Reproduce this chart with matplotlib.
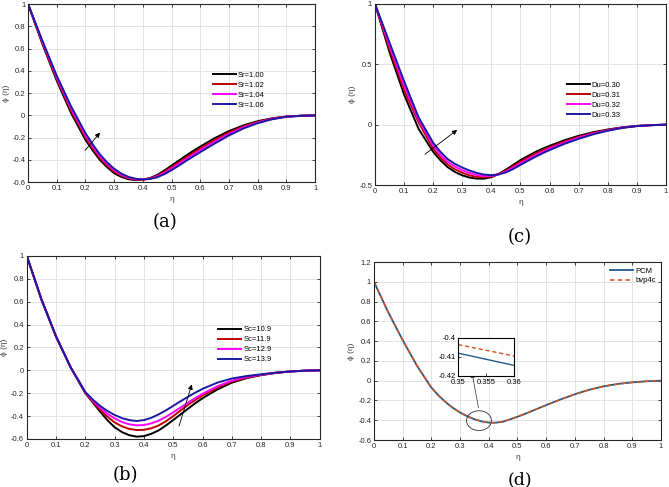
import matplotlib.pyplot as plt
from matplotlib.patches import Ellipse
import numpy as np

plt.rcParams['font.family'] = ['Liberation Sans', 'DejaVu Sans']

eta = [0.0, 0.05, 0.1, 0.15, 0.2, 0.225, 0.25, 0.275, 0.3, 0.325, 0.35, 0.375,
       0.4, 0.425, 0.45, 0.475, 0.5, 0.525, 0.55, 0.575, 0.6, 0.65, 0.7, 0.75,
       0.8, 0.85, 0.9, 0.95, 1.0]

# (a) Sr
sr_labels = ['Sr=1.00', 'Sr=1.02', 'Sr=1.04', 'Sr=1.06']
sr_vals = [
    [1.0, 0.64, 0.31, 0.02, -0.22, -0.315, -0.40, -0.465, -0.52, -0.553, -0.574, -0.582,
     -0.578, -0.563, -0.535, -0.495, -0.451, -0.406, -0.362, -0.32, -0.28, -0.205, -0.141, -0.09,
     -0.052, -0.026, -0.01, -0.003, 0.0],
    [1.0, 0.65, 0.325, 0.04, -0.20, -0.297, -0.383, -0.451, -0.507, -0.543, -0.567, -0.578,
     -0.577, -0.566, -0.542, -0.506, -0.465, -0.421, -0.378, -0.337, -0.297, -0.221, -0.154, -0.099,
     -0.058, -0.029, -0.011, -0.003, 0.0],
    [1.0, 0.66, 0.34, 0.06, -0.18, -0.278, -0.367, -0.436, -0.493, -0.533, -0.56, -0.574,
     -0.577, -0.569, -0.549, -0.517, -0.478, -0.437, -0.394, -0.353, -0.313, -0.237, -0.167, -0.108,
     -0.064, -0.032, -0.012, -0.004, 0.0],
    [1.0, 0.67, 0.355, 0.08, -0.16, -0.26, -0.35, -0.422, -0.48, -0.523, -0.553, -0.570,
     -0.576, -0.572, -0.556, -0.528, -0.492, -0.452, -0.41, -0.37, -0.33, -0.253, -0.18, -0.118,
     -0.07, -0.035, -0.013, -0.004, 0.0],
]

# (c) Du
du_labels = ['Du=0.30', 'Du=0.31', 'Du=0.32', 'Du=0.33']
du_vals = [
    [1.0, 0.60, 0.25, -0.035, -0.225, -0.295, -0.352, -0.392, -0.42, -0.438, -0.447, -0.447,
     -0.435, -0.408, -0.372, -0.333, -0.293, -0.26, -0.228, -0.2, -0.175, -0.13, -0.092, -0.062,
     -0.04, -0.022, -0.01, -0.004, 0.0],
    [1.0, 0.627, 0.287, 0.018, -0.2, -0.272, -0.33, -0.37, -0.398, -0.42, -0.433, -0.436,
     -0.429, -0.409, -0.38, -0.344, -0.306, -0.273, -0.241, -0.213, -0.187, -0.14, -0.1, -0.068,
     -0.043, -0.024, -0.011, -0.004, 0.0],
    [1.0, 0.653, 0.323, 0.04, -0.175, -0.25, -0.308, -0.347, -0.377, -0.40, -0.417, -0.425,
     -0.424, -0.41, -0.387, -0.355, -0.32, -0.287, -0.255, -0.226, -0.198, -0.15, -0.108, -0.074,
     -0.047, -0.025, -0.011, -0.004, 0.0],
    [1.0, 0.68, 0.36, 0.06, -0.15, -0.225, -0.285, -0.325, -0.355, -0.38, -0.40, -0.413,
     -0.418, -0.412, -0.395, -0.367, -0.333, -0.30, -0.268, -0.238, -0.21, -0.16, -0.117, -0.08,
     -0.05, -0.027, -0.012, -0.004, 0.0],
]

# (b) Sc
sc_labels = ['Sc=10.9', 'Sc=11.9', 'Sc=12.9', 'Sc=13.9']
sc_vals = [
    [1.0, 0.62, 0.295, 0.025, -0.20, -0.28, -0.36, -0.435, -0.498, -0.54, -0.567, -0.58,
     -0.575, -0.555, -0.525, -0.482, -0.434, -0.385, -0.336, -0.288, -0.244, -0.168, -0.108, -0.068,
     -0.042, -0.023, -0.01, -0.003, 0.0],
    [1.0, 0.62, 0.295, 0.025, -0.198, -0.275, -0.345, -0.405, -0.455, -0.49, -0.512, -0.522,
     -0.52, -0.507, -0.482, -0.445, -0.40, -0.35, -0.303, -0.26, -0.22, -0.152, -0.098, -0.063,
     -0.04, -0.022, -0.01, -0.003, 0.0],
    [1.0, 0.62, 0.295, 0.025, -0.195, -0.265, -0.327, -0.38, -0.42, -0.452, -0.472, -0.481,
     -0.478, -0.464, -0.44, -0.407, -0.367, -0.325, -0.283, -0.243, -0.205, -0.14, -0.09, -0.058,
     -0.038, -0.021, -0.01, -0.003, 0.0],
    [1.0, 0.62, 0.295, 0.025, -0.19, -0.255, -0.31, -0.355, -0.39, -0.418, -0.435, -0.443,
     -0.435, -0.415, -0.385, -0.35, -0.31, -0.27, -0.232, -0.195, -0.162, -0.108, -0.072, -0.05,
     -0.035, -0.02, -0.01, -0.003, 0.0],
]

# (d) PCM vs bvp4c
pcm = [1.0, 0.69, 0.41, 0.15, -0.07, -0.15, -0.218, -0.275, -0.322, -0.36, -0.39, -0.412,
       -0.424, -0.425, -0.414, -0.39, -0.365, -0.337, -0.307, -0.277, -0.247, -0.19, -0.137, -0.092,
       -0.057, -0.033, -0.017, -0.006, 0.0]
bvp = [1.0, 0.69, 0.41, 0.15, -0.07, -0.15, -0.218, -0.275, -0.322, -0.36, -0.39, -0.412,
       -0.424, -0.425, -0.414, -0.39, -0.365, -0.337, -0.307, -0.277, -0.247, -0.19, -0.137, -0.092,
       -0.057, -0.033, -0.017, -0.006, 0.0]
zoom_eta = [0.35, 0.36]
zoom_pcm = [-0.408, -0.4145]
zoom_bvp = [-0.4035, -0.4095]

colors = ['black', '#c00000', '#ff00ff', '#1a1aa0']


def style(ax, ylim, yticks):
    ax.set_xlim(0, 1)
    ax.set_ylim(*ylim)
    ax.set_xticks(np.arange(0, 1.01, 0.1))
    ax.set_xticklabels(['0', '0.1', '0.2', '0.3', '0.4', '0.5', '0.6', '0.7', '0.8', '0.9', '1'])
    ax.set_yticks(yticks)
    ax.set_yticklabels(['%g' % t for t in yticks])
    ax.grid(True, color='#e3e3e3', linewidth=0.7)
    ax.set_axisbelow(True)
    ax.tick_params(direction='in', length=2, width=0.6, labelsize=5.5, pad=2,
                   top=True, right=True, colors='#262626')
    for s in ax.spines.values():
        s.set_linewidth(0.8)
        s.set_color('#262626')
    ax.set_xlabel('η', fontsize=6, labelpad=3, color='#404040')
    ax.set_ylabel('ϕ (η)', fontsize=6, labelpad=2, color='#404040')


fig = plt.figure(figsize=(6.69, 4.87), dpi=100)

# (a)
ax = fig.add_axes([0.042, 0.626, 0.429, 0.3655])
for v, c, l in zip(sr_vals, colors, sr_labels):
    ax.plot(eta, v, color=c, lw=1.4, label=l)
style(ax, (-0.6, 1), [-0.6, -0.4, -0.2, 0, 0.2, 0.4, 0.6, 0.8, 1])
ax.annotate('', xy=(0.257, -0.136), xytext=(0.192, -0.334),
            arrowprops=dict(arrowstyle='-|>', color='black', lw=0.6, mutation_scale=7))
ax.legend(loc='upper left', bbox_to_anchor=(0.62, 0.66), frameon=False, fontsize=5.5,
          handlelength=3, handletextpad=0.3, labelspacing=0.35)
fig.text(0.247, 0.545, '(a)', fontsize=13, family='DejaVu Serif', ha='center', va='center')

# (c)
ax = fig.add_axes([0.5605, 0.620, 0.435, 0.372])
for v, c, l in zip(du_vals, colors, du_labels):
    ax.plot(eta, v, color=c, lw=1.4, label=l)
style(ax, (-0.5, 1), [-0.5, 0, 0.5, 1])
ax.annotate('', xy=(0.29, -0.03), xytext=(0.164, -0.259),
            arrowprops=dict(arrowstyle='-|>', color='black', lw=0.6, mutation_scale=7))
ax.legend(loc='upper left', bbox_to_anchor=(0.635, 0.61), frameon=False, fontsize=5.5,
          handlelength=3, handletextpad=0.3, labelspacing=0.35)
fig.text(0.777, 0.513, '(c)', fontsize=13, family='DejaVu Serif', ha='center', va='center')

# (b)
ax = fig.add_axes([0.040, 0.0986, 0.438, 0.376])
for v, c, l in zip(sc_vals, colors, sc_labels):
    ax.plot(eta, v, color=c, lw=1.4, label=l)
style(ax, (-0.6, 1), [-0.6, -0.4, -0.2, 0, 0.2, 0.4, 0.6, 0.8, 1])
ax.annotate('', xy=(0.566, -0.1), xytext=(0.517, -0.51),
            arrowprops=dict(arrowstyle='-|>', color='black', lw=0.6, mutation_scale=7))
ax.legend(loc='upper left', bbox_to_anchor=(0.63, 0.655), frameon=False, fontsize=5.5,
          handlelength=3, handletextpad=0.3, labelspacing=0.35)
fig.text(0.187, 0.025, '(b)', fontsize=13, family='DejaVu Serif', ha='center', va='center')

# (d)
ax = fig.add_axes([0.559, 0.0965, 0.429, 0.3655])
ax.plot(eta, pcm, color='#1f5a8c', lw=1.3, label='PCM')
ax.plot(eta, bvp, color='#d9541a', lw=1.1, ls=(0, (3, 2)), label='bvp4c')
style(ax, (-0.6, 1.2), [-0.6, -0.4, -0.2, 0, 0.2, 0.4, 0.6, 0.8, 1, 1.2])
ax.add_patch(Ellipse((0.366, -0.404), 0.087, 0.2, fill=False, color='#303030', lw=0.6))
ax.annotate('', xy=(0.34, 0.108), xytext=(0.366, -0.303),
            arrowprops=dict(arrowstyle='-|>', color='#303030', lw=0.5, mutation_scale=7))
ax.legend(loc='upper right', frameon=False, fontsize=5.5,
          handlelength=3, handletextpad=0.3, labelspacing=0.3, borderaxespad=0.3)
fig.text(0.777, 0.0155, '(d)', fontsize=12.5, family='DejaVu Serif', ha='center', va='center')

axi = fig.add_axes([0.685, 0.228, 0.084, 0.078])
axi.plot(zoom_eta, zoom_pcm, color='#1f5a8c', lw=1.0)
axi.plot(zoom_eta, zoom_bvp, color='#d9541a', lw=1.0, ls=(0, (3, 2)))
axi.set_xlim(0.35, 0.36)
axi.set_ylim(-0.42, -0.40)
axi.set_xticks([0.35, 0.355, 0.36])
axi.set_xticklabels(['0.35', '0.355', '0.36'])
axi.set_yticks([-0.42, -0.41, -0.4])
axi.set_yticklabels(['-0.42', '-0.41', '-0.4'])
axi.tick_params(direction='in', length=2, width=0.5, labelsize=5.5, pad=2)
for s in axi.spines.values():
    s.set_linewidth(0.8)

fig.savefig('out.png', dpi=100)
